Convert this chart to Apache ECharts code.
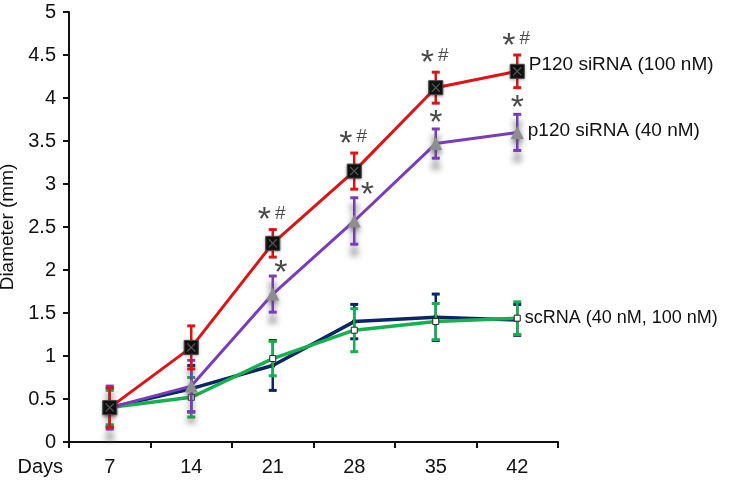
<!DOCTYPE html>
<html>
<head>
<meta charset="utf-8">
<script src="https://cdn.jsdelivr.net/npm/echarts@6/dist/echarts.min.js"></script>
<style>html,body{margin:0;padding:0;background:#fff}#c{width:745px;height:480px}</style>
</head>
<body>
<div id="c"></div>
<script>
// ---- data ----
const days = ['7', '14', '21', '28', '35', '42'];
const yTicks = [0, 0.5, 1, 1.5, 2, 2.5, 3, 3.5, 4, 4.5, 5];
const p120_100 = [0.40, 1.10, 2.31, 3.15, 4.12, 4.31];
const p120_100Err = [0.23, 0.25, 0.16, 0.21, 0.18, 0.19];
const p120_40 = [0.40, 0.65, 1.72, 2.57, 3.47, 3.60];
const p120_40Err = [0.25, 0.30, 0.21, 0.27, 0.17, 0.21];
const sc_40 = [0.40, 0.62, 0.89, 1.40, 1.45, 1.42];
const sc_40Err = [0.22, 0.27, 0.29, 0.20, 0.27, 0.18];
const sc_100 = [0.40, 0.52, 0.97, 1.30, 1.40, 1.44];
const sc_100Err = [0.20, 0.23, 0.20, 0.25, 0.21, 0.19];
const p120_100Marks = ['', '', '*#', '*#', '*#', '*#'];
const p120_40Marks = ['', '', '*', '*', '*', '*'];
const labels = {
  p120_100: 'P120 siRNA (100 nM)',
  p120_40: 'p120 siRNA (40 nM)',
  sc: 'scRNA (40 nM, 100 nM)'
};

// ---- styles ----
const C = { red: '#dc1414', purple: '#7a3cbb', navy: '#0b2566', green: '#16b04e', tri: '#8e8e8e' };
const FONT = 'Liberation Sans, Arial, sans-serif';
// annotation offsets (px) for the 40 nM marks, per category
const purpleMarkOffset = [[0, 0], [0, 0], [8, -10], [13, -10], [0, -13], [0, -13]];

function errSeries(vals, errs, color, z, shadow) {
  return {
    type: 'custom', z: z, silent: true,
    data: vals.map((v, i) => [i, v - errs[i], v + errs[i]]),
    renderItem: function (params, api) {
      const lo = api.coord([api.value(0), api.value(1)]);
      const hi = api.coord([api.value(0), api.value(2)]);
      const w = 4;
      const st = { stroke: color, lineWidth: 2.5 };
      if (shadow) Object.assign(st, { shadowColor: 'rgba(90,90,90,0.85)', shadowBlur: 6, shadowOffsetY: 9 });
      return {
        type: 'group',
        children: [
          { type: 'line', shape: { x1: hi[0], y1: hi[1], x2: lo[0], y2: lo[1] }, style: st },
          { type: 'line', shape: { x1: hi[0] - w, y1: hi[1], x2: hi[0] + w, y2: hi[1] }, style: Object.assign({}, st, { lineWidth: 3 }) },
          { type: 'line', shape: { x1: lo[0] - w, y1: lo[1], x2: lo[0] + w, y2: lo[1] }, style: Object.assign({}, st, { lineWidth: 3 }) }
        ]
      };
    }
  };
}

function lastLabel(vals, text, dy, size) {
  return vals.map((v, i) => i === vals.length - 1 ? {
    value: v,
    label: { show: true, position: 'right', distance: 4, offset: [0, dy], formatter: text,
      color: '#111', fontSize: size, fontFamily: FONT }
  } : v);
}

const markRich = {
  s: { fontSize: 34, fontFamily: FONT, color: '#1a1a1a', lineHeight: 34, padding: [15, 0, 0, 0] },
  h: { fontSize: 19, fontFamily: FONT, color: '#1a1a1a', lineHeight: 22, padding: [0, 0, 0, 4] }
};
function markSeries(vals, errs, marks, offsets) {
  return {
    type: 'scatter', z: 20, symbolSize: 0, silent: true,
    data: vals.map((v, i) => ({
      value: [i, v + errs[i]],
      label: {
        show: marks[i] !== '', position: 'inside',
        offset: offsets ? offsets[i] : [-1, -16],
        formatter: marks[i].replace('*', '{s|*}').replace('#', '{h|#}'),
        rich: markRich
      }
    }))
  };
}

const chart = echarts.init(document.getElementById('c'), null, { renderer: 'canvas' });
chart.setOption({
  animation: false,
  backgroundColor: '#fff',
  grid: { left: 69, top: 12, width: 489, height: 430, containLabel: false, outerBoundsMode: 'none' },
  xAxis: {
    type: 'category', data: days, boundaryGap: true,
    name: 'Days', nameLocation: 'start', nameGap: 6,
    nameTextStyle: { fontSize: 20, fontFamily: FONT, color: '#111', verticalAlign: 'top', padding: [15, 0, 0, 0] },
    axisLine: { lineStyle: { color: '#111', width: 2 } },
    axisTick: { show: true, length: 6, inside: false, lineStyle: { color: '#111', width: 2 } },
    axisLabel: { fontSize: 20, fontFamily: FONT, color: '#111', margin: 15 },
    splitLine: { show: false }
  },
  yAxis: {
    type: 'value', min: yTicks[0], max: yTicks[yTicks.length - 1], interval: yTicks[1] - yTicks[0],
    name: 'Diameter (mm)', nameLocation: 'middle', nameRotate: 90, nameGap: 52,
    nameTextStyle: { fontSize: 19, fontFamily: FONT, color: '#111' },
    axisLine: { show: true, lineStyle: { color: '#111', width: 2 } },
    axisTick: { show: true, length: 6, lineStyle: { color: '#111', width: 2 } },
    axisLabel: { fontSize: 20, fontFamily: FONT, color: '#111', margin: 13 },
    splitLine: { show: false }
  },
  series: [
    errSeries(sc_40, sc_40Err, C.navy, 2, false),
    { type: 'line', z: 2, data: sc_40, symbol: 'circle', symbolSize: 5,
      lineStyle: { color: C.navy, width: 3.5 }, itemStyle: { color: '#222' } },
    errSeries(sc_100, sc_100Err, C.green, 3, false),
    { type: 'line', z: 3, data: lastLabel(sc_100, labels.sc, 0, 18), symbol: 'rect', symbolSize: 6,
      lineStyle: { color: C.green, width: 3.5 }, itemStyle: { color: '#fff', borderColor: '#222', borderWidth: 1 } },
    errSeries(p120_40, p120_40Err, C.purple, 4, true),
    { type: 'line', z: 4, data: lastLabel(p120_40, labels.p120_40, -2, 19), symbol: 'triangle', symbolSize: 13,
      lineStyle: { color: C.purple, width: 3 },
      itemStyle: { color: C.tri, shadowColor: 'rgba(80,80,80,0.6)', shadowBlur: 5, shadowOffsetY: 3 } },
    errSeries(p120_100, p120_100Err, C.red, 5, false),
    { type: 'line', z: 5, data: lastLabel(p120_100, labels.p120_100, -7, 19), symbol: 'rect', symbolSize: 14,
      lineStyle: { color: C.red, width: 3 },
      itemStyle: { color: '#111', borderColor: '#444', borderWidth: 1, shadowColor: 'rgba(0,0,0,0.4)', shadowBlur: 3, shadowOffsetY: 1 } },
    { type: 'scatter', z: 6, silent: true, data: p120_100.map((v, i) => [i, v]),
      symbol: 'path://M0,1 L1,0 L10,9 L9,10 Z M9,0 L10,1 L1,10 L0,9 Z', symbolSize: 9,
      itemStyle: { color: '#666' } },
    markSeries(p120_100, p120_100Err, p120_100Marks, null),
    markSeries(p120_40, p120_40Err, p120_40Marks, purpleMarkOffset)
  ]
});
</script>
</body>
</html>
